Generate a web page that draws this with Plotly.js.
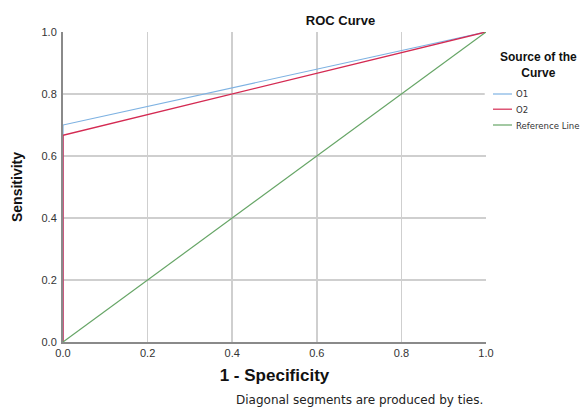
<!DOCTYPE html>
<html>
<head>
<meta charset="utf-8">
<script src="https://cdn.plot.ly/plotly-3.0.1.min.js"></script>
<style>html,body{margin:0;padding:0;background:#fff;}#chart{width:582px;height:409px;}</style>
</head>
<body>
<div id="chart"></div>
<script>
// Data
const o1X = [0, 0, 1];
const o1Y = [0, 0.70, 1];
const o2X = [0, 0, 1];
const o2Y = [0, 0.667, 1];
const refX = [0, 1];
const refY = [0, 1];
const seriesNames = ["O1", "O2", "Reference Line"];
const seriesColors = ['#7eb2e2', '#d42a52', '#66a566'];
const tickVals = [0, 0.2, 0.4, 0.6, 0.8, 1.0];
const tickLabels = ["0.0", "0.2", "0.4", "0.6", "0.8", "1.0"];

const traces = [
  {x: o1X, y: o1Y, name: seriesNames[0], mode: 'lines', line: {color: seriesColors[0], width: 1.2}},
  {x: o2X, y: o2Y, name: seriesNames[1], mode: 'lines', line: {color: seriesColors[1], width: 1.4}},
  {x: refX, y: refY, name: seriesNames[2], mode: 'lines', line: {color: seriesColors[2], width: 1.2}}
];

// Legend drawn as shapes + annotations (compact SPSS-style legend)
const legendRowsY = [0.80, 0.751, 0.70];
const shapes = [
  {type: 'rect', xref: 'paper', yref: 'paper', x0: 0.997, x1: 1.3, y0: 0.66, y1: 0.98,
   fillcolor: '#fff', line: {width: 0}, layer: 'above'}
];
const annotations = [
  {xref: 'paper', yref: 'paper', x: 1.123, y: 0.894, xanchor: 'center', yanchor: 'middle',
   text: '<b>Source of the<br>Curve</b>', showarrow: false, align: 'center',
   font: {size: 12, color: '#111'}},
  {xref: 'paper', yref: 'paper', x: 0.702, y: -0.186, xanchor: 'center', yanchor: 'middle',
   text: 'Diagonal segments are produced by ties.', showarrow: false,
   font: {family: 'DejaVu Sans, Liberation Sans, sans-serif', size: 12, color: '#222'}}
];
seriesNames.forEach((nm, i) => {
  shapes.push({type: 'line', xref: 'paper', yref: 'paper', x0: 1.0165, x1: 1.0615,
               y0: legendRowsY[i], y1: legendRowsY[i], line: {color: seriesColors[i], width: 1.2}, layer: 'above'});
  annotations.push({xref: 'paper', yref: 'paper', x: 1.067, y: legendRowsY[i], xanchor: 'left', yanchor: 'middle',
                    text: nm, showarrow: false,
                    font: {family: 'DejaVu Sans Condensed, Liberation Sans, sans-serif', size: 9.5, color: '#333'}});
});

const layout = {
  width: 582, height: 409,
  margin: {l: 63, r: 96, t: 32, b: 67},
  paper_bgcolor: '#fff', plot_bgcolor: '#fff',
  font: {family: 'Liberation Sans, Arial, sans-serif', color: '#222', size: 10},
  showlegend: false,
  title: {text: '<b>ROC Curve</b>', x: 0.585, xanchor: 'center', y: 0.95, yanchor: 'middle',
          font: {size: 13, color: '#111'}},
  xaxis: {
    range: [0, 1], tickvals: tickVals, ticktext: tickLabels,
    showgrid: true, gridcolor: '#cfcfcf', gridwidth: 1.5,
    zeroline: false, showline: true, linecolor: '#8a8a8a', linewidth: 2,
    ticks: '', tickfont: {size: 11, color: '#333'},
    title: {text: '<b>1 - Specificity</b>', font: {size: 17, color: '#111'}, standoff: 11},
    fixedrange: true, automargin: false
  },
  yaxis: {
    range: [0, 1], tickvals: tickVals, ticktext: tickLabels,
    showgrid: true, gridcolor: '#cfcfcf', gridwidth: 1.5,
    zeroline: false, showline: true, linecolor: '#8a8a8a', linewidth: 2,
    ticks: '', tickfont: {size: 11, color: '#333'}, ticklabelstandoff: 2,
    title: {text: '<b>Sensitivity</b>', font: {size: 14, color: '#111'}, standoff: 16},
    fixedrange: true, automargin: false
  },
  shapes: shapes,
  annotations: annotations
};

Plotly.newPlot('chart', traces, layout, {displayModeBar: false, staticPlot: true});
</script>
</body>
</html>
